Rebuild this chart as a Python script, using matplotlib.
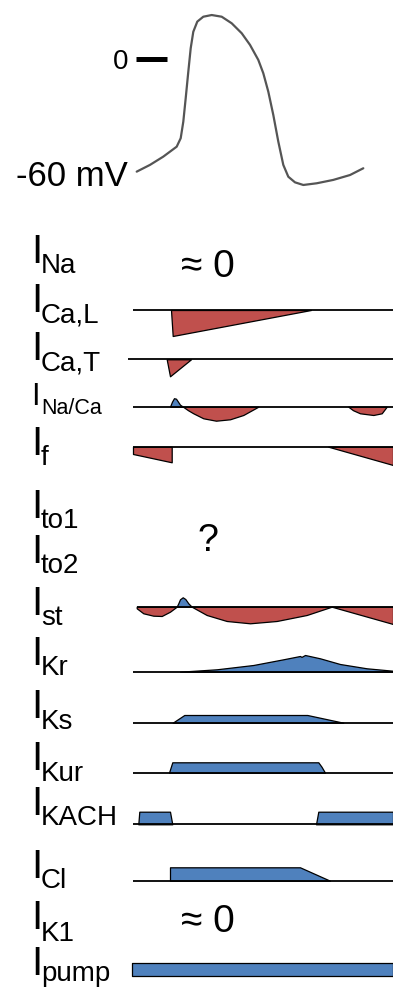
import numpy as np
import matplotlib
matplotlib.use("Agg")
import matplotlib.pyplot as plt

plt.rcParams['font.family'] = ['Liberation Sans', 'DejaVu Sans']

W, H = 393, 988
RED = '#C0504D'
BLUE = '#4F81BD'

# ---------------- data ----------------
# action potential: time (ms, arbitrary) and membrane voltage (mV)
t_ap = [3.7, 17, 30.3, 43.7, 47.7, 50.3, 52.7, 55.3, 57.7, 60.3, 64.3, 70.3,
        78.7, 88.7, 98.7, 108.7, 117, 125.3, 130.3, 135.3, 140.3, 145.3,
        150.3, 155.3, 162, 170.3, 183.7, 200.3, 217, 230.3]
v_ap = [-60.0, -56.4, -52.0, -46.7, -42.2, -33.4, -20.9, -6.8, 5.7, 14.5,
        19.9, 22.5, 23.4, 22.5, 19.0, 13.7, 7.5, -0.5, -7.6, -17.4, -29.8,
        -44.0, -56.4, -62.7, -65.7, -67.1, -66.2, -64.4, -61.8, -58.2]
ap_ticks_mv = [0, -60]
ap_tick_labels = ['0', '-60 mV']

# current labels
label_main = 'I'
label_subs = ['Na', 'Ca,L', 'Ca,T', 'Na/Ca', 'f', 'to1', 'to2', 'st',
              'Kr', 'Ks', 'Kur', 'KACH', 'Cl', 'K1', 'pump']

# currents (outward positive, arbitrary units); each segment: (times, values, colour)
ica_l = [([38, 39.7, 178], [0, -26, 0], RED)]
ica_t = [([33.7, 37, 58], [0, -17, 0], RED)]
inaca = [([37, 39, 41, 43, 45, 47, 50], [0, 5, 8.5, 8, 5, 2, 0], BLUE),
         ([50, 55, 60.3, 70.3, 83, 97, 110.3, 125.3],
          [0, -3.5, -6.6, -11.6, -14, -12.6, -8.3, 0], RED),
         ([215.3, 220, 227, 240.3, 248.7, 253.7],
          [0, -3.5, -6.6, -8.3, -6.6, 0], RED)]
i_f = [([0, 38.7], [-7.3, -15.6], RED),
       ([195.3, 260], [0, -18.3], RED)]
i_st = [([3.7, 10.3, 20.3, 28.7, 37, 43.7], [-1.6, -6.6, -9, -9.3, -5, 0], RED),
        ([43.7, 45.3, 47, 49.7, 52.3, 55.3, 58.7], [0, 3.4, 7.4, 9.4, 7.7, 3.4, 0], BLUE),
        ([58.7, 73.7, 93.7, 117, 143.7, 173.7, 198.7],
         [0, -8.3, -14.3, -16.6, -14.3, -8.3, 0], RED),
        ([198.7, 260], [0, -17.3], RED)]
i_kr = [([47, 83.7, 120.3, 150.3, 167, 168.5, 172, 187, 207, 233.7, 259.7],
         [0, 2.4, 6.7, 12.4, 15.7, 14.8, 16.7, 13.4, 7.7, 3.4, 1.0], BLUE)]
i_ks = [([39.7, 51.3, 174.3, 210.3], [0, 7.7, 7.7, 0], BLUE)]
i_kur = [([36, 39.3, 185.3, 188.5, 192], [0, 10.4, 10.4, 6, 0], BLUE)]
i_kach = [([5.3, 6.3, 37, 39.3], [0, 12.6, 12.6, 0], BLUE),
          ([183, 185.3, 260], [0, 12.6, 12.6], BLUE)]
i_cl = [([37, 37, 167, 197], [0, 13.4, 13.4, 0], BLUE)]
i_pump = [([-1.3, 259.7], [12.7, 12.7], BLUE)]

traces = [ica_l, ica_t, inaca, i_f, i_st, i_kr, i_ks, i_kur, i_kach, i_cl]

# ---------------- layout (pixels) ----------------
trace_base = [310, 359.3, 406.7, 446.7, 606.7, 671.7, 722.7, 772.7, 824.3, 880.7]
trace_start = [-0.3, -4.7, -0.3, 0.3, 3.7, 0, 0, 0, 0.3, 0.3]
pump_base = 976
label_I_base = [263, 312, 360, 405, 455, 518, 563, 615, 665, 718, 770, 815, 878, 929, 975]
label_sub_base = [273, 322, 370, 414, 465, 528, 573, 625, 675, 729, 781, 825, 888, 941, 981]
label_I_size = [29] * 15
label_sub_size = [20] * 15
label_I_size[3] = 22
label_sub_size[3] = 15.5

fig = plt.figure(figsize=(W / 100, H / 100), dpi=100)
fig.patch.set_facecolor('white')


def fx(x):
    return x / W


def fy(y):
    return 1 - y / H


# ---- action potential axes ----
ap_h = 200
ax_ap = fig.add_axes([0, fy(ap_h), 1, ap_h / H])
ax_ap.set_xlim(-133, 260)
ax_ap.set_ylim(-75.1, 31.4)
ax_ap.axis('off')
ax_ap.plot(t_ap, v_ap, color='#555555', lw=1.6, solid_capstyle='round')
ax_ap.plot([3, 34], [ap_ticks_mv[0]] * 2, color='black', lw=3.6, solid_capstyle='butt')
ax_ap.text(-4.5, ap_ticks_mv[0], ap_tick_labels[0], fontsize=20, ha='right',
           va='center_baseline')
ax_ap.text(-5, ap_ticks_mv[1] - 0.5, ap_tick_labels[1], fontsize=25, ha='right',
           va='center_baseline')

# ---- current traces axes ----
ax = fig.add_axes([0, 0, 1, 1])
ax.set_xlim(-133, 260)
ax.set_ylim(H, 0)
ax.axis('off')

for segs, base, t0 in zip(traces, trace_base, trace_start):
    for tt, vv, col in segs:
        tt = np.array(tt, float)
        vv = np.array(vv, float)
        ax.fill_between(tt, base, base - vv, facecolor=col, edgecolor='black',
                        lw=0.9, zorder=2)
    ax.plot([t0, 260], [base, base], color='black', lw=1.3, zorder=3,
            solid_capstyle='butt')

for tt, vv, col in i_pump:
    tt = np.array(tt, float)
    vv = np.array(vv, float)
    ax.fill_between(tt, pump_base, pump_base - vv, facecolor=col,
                    edgecolor='black', lw=0.9, zorder=2)

# labels
for sub, bI, bS, sI, sS in zip(label_subs, label_I_base, label_sub_base,
                               label_I_size, label_sub_size):
    fig.text(fx(31), fy(bI), label_main, fontsize=sI, ha='left', va='baseline')
    fig.text(fx(41), fy(bS), sub, fontsize=sS, ha='left', va='baseline')

# annotations
fig.text(fx(181), fy(277), '\u2248 0', fontsize=28, ha='left', va='baseline')
fig.text(fx(181), fy(932), '\u2248 0', fontsize=28, ha='left', va='baseline')
fig.text(fx(207.5), fy(551), '?', fontsize=27, ha='center', va='baseline')

fig.savefig('out.png', dpi=100, facecolor='white')
